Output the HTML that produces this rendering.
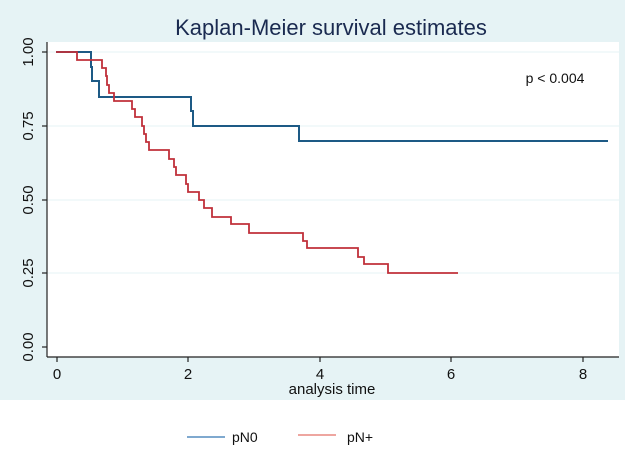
<!DOCTYPE html>
<html><head><meta charset="utf-8"><style>
html,body{margin:0;padding:0;background:#fff;}
</style></head><body>
<svg width="625" height="446" viewBox="0 0 625 446" xmlns="http://www.w3.org/2000/svg" font-family="Liberation Sans, sans-serif">
<rect x="0" y="0" width="625" height="400" fill="#e6f3f5"/>
<rect x="47" y="42" width="572" height="315" fill="#ffffff"/>
<g stroke="#e6f3f5" stroke-width="1">
<line x1="47" y1="52" x2="619" y2="52"/><line x1="47" y1="126" x2="619" y2="126"/>
<line x1="47" y1="200" x2="619" y2="200"/><line x1="47" y1="273" x2="619" y2="273"/>
</g>
<text x="331" y="35" text-anchor="middle" font-size="22" fill="#1a2a50">Kaplan-Meier survival estimates</text>
<g stroke="#222" stroke-width="1.2" fill="none">
<line x1="47" y1="42" x2="47" y2="357"/><line x1="47" y1="357" x2="619" y2="357"/>
<line x1="42" y1="52" x2="47" y2="52"/><line x1="42" y1="126" x2="47" y2="126"/>
<line x1="42" y1="200" x2="47" y2="200"/><line x1="42" y1="273" x2="47" y2="273"/><line x1="42" y1="347" x2="47" y2="347"/>
<line x1="57" y1="357" x2="57" y2="362"/><line x1="188" y1="357" x2="188" y2="362"/><line x1="320" y1="357" x2="320" y2="362"/><line x1="451" y1="357" x2="451" y2="362"/><line x1="583" y1="357" x2="583" y2="362"/>
</g>
<g font-size="15" fill="#111" text-anchor="middle">
<text transform="translate(33,52) rotate(-90)">1.00</text>
<text transform="translate(33,126) rotate(-90)">0.75</text>
<text transform="translate(33,200) rotate(-90)">0.50</text>
<text transform="translate(33,273) rotate(-90)">0.25</text>
<text transform="translate(33,347) rotate(-90)">0.00</text>
<text x="57" y="379">0</text><text x="188" y="379">2</text><text x="320" y="379">4</text><text x="451" y="379">6</text><text x="583" y="379">8</text>
<text x="332" y="394" font-size="15">analysis time</text>
</g>
<text x="555" y="83" font-size="14" fill="#111" text-anchor="middle">p &lt; 0.004</text>
<polyline fill="none" stroke="#1d5a85" stroke-width="2" points="56,52 91,52 91,67 92,67 92,81 99,81 99,97 191,97 191,111 193,111 193,126 299,126 299,141 608,141"/>
<polyline fill="none" stroke="#c0303a" stroke-width="1.8" points="56,52 77,52 77,60 102,60 102,68 106,68 106,76 107,76 107,85 109,85 109,93 114,93 114,101 132,101 132,109 135,109 135,117 142,117 142,126 144,126 144,134 146,134 146,142 149,142 149,150 169,150 169,159 174,159 174,167 176,167 176,175 186,175 186,184 188,184 188,192 199,192 199,200 204,200 204,208 212,208 212,217 231,217 231,224 249,224 249,233 303,233 303,241 307,241 307,248 358,248 358,257 364,257 364,264 388,264 388,273 458,273"/>
<line x1="187" y1="437" x2="225" y2="437" stroke="#7fa9cf" stroke-width="2"/>
<text x="232" y="442" font-size="14" fill="#111">pN0</text>
<line x1="298" y1="435" x2="336" y2="435" stroke="#eea6a0" stroke-width="2"/>
<text x="347" y="442" font-size="14" fill="#111">pN+</text>
</svg>
</body></html>
